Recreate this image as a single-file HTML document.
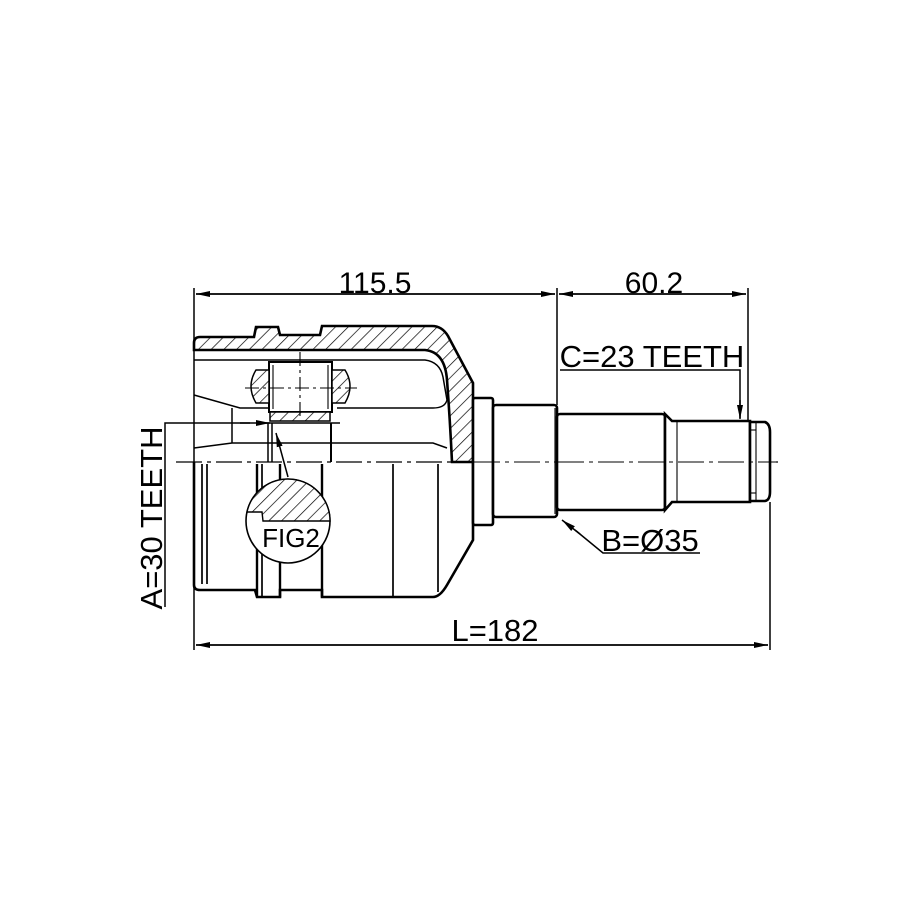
<!DOCTYPE html>
<html><head><style>
html,body{margin:0;padding:0;background:#fff}
svg{display:block}
text{font-family:"Liberation Sans",sans-serif;fill:#000}
</style></head><body>
<svg width="915" height="915" viewBox="0 0 915 915" xmlns="http://www.w3.org/2000/svg">
<defs>
<pattern id="h" patternUnits="userSpaceOnUse" width="9" height="9" patternTransform="rotate(45)">
<rect width="9" height="9" fill="#fff"/><line x1="0" y1="0" x2="0" y2="9" stroke="#000" stroke-width="1.4"/>
</pattern>
<marker id="a" markerWidth="14" markerHeight="8" refX="14" refY="4" orient="auto" markerUnits="userSpaceOnUse">
<path d="M0,1 L14,4 L0,7 Z" fill="#000"/></marker>
</defs>
<g fill="none" stroke="#000" stroke-width="1.5">
<line x1="194" y1="288" x2="194" y2="650"/>
<line x1="557" y1="288" x2="557" y2="405"/>
<line x1="748" y1="288" x2="748" y2="421"/>
<line x1="770" y1="502" x2="770" y2="650"/>
<line x1="196" y1="294" x2="555" y2="294" marker-end="url(#a)"/>
<line x1="555" y1="294" x2="196" y2="294" marker-end="url(#a)"/>
<line x1="559" y1="294" x2="746" y2="294" marker-end="url(#a)"/>
<line x1="746" y1="294" x2="559" y2="294" marker-end="url(#a)"/>
<line x1="196" y1="645" x2="768" y2="645" marker-end="url(#a)"/>
<line x1="768" y1="645" x2="196" y2="645" marker-end="url(#a)"/>
<polyline points="560,370 740,370 740,418" />
<line x1="740" y1="400" x2="740" y2="419" marker-end="url(#a)"/>
<polyline points="700,553 603,553 575,530"/>
<line x1="580" y1="534" x2="562" y2="520" marker-end="url(#a)"/>
<polyline points="165,607 165,423 250,423"/>
<line x1="240" y1="423" x2="270" y2="423" marker-end="url(#a)"/>
<line x1="288" y1="477" x2="276" y2="433" marker-end="url(#a)"/>
<line x1="176" y1="462" x2="778" y2="462" stroke-dasharray="26,5,4,5" stroke-width="1.3"/>
</g>
<path d="M194,343 Q194,337 200,337 L254,337 L256,327 L278,327 L280,335 L320,335 L322,326 L432,326 Q442,326 448,336 L473,383 L473,462 L452,462 Q450,420 447,380 Q445,352 425,350 L194,350 Z" fill="url(#h)" stroke="#000" stroke-width="2.6"/>
<g fill="none" stroke="#000" stroke-width="1.5">
<path d="M194,360 L425,360 Q440,362 443,377 L447,400 Q445,408 433,408 L337,408"/>
<polyline points="194,395 240,408 268,408"/>
<line x1="232" y1="408" x2="232" y2="443"/>
<path d="M194,448 L232,443 L433,443 L447,448"/>
<line x1="268" y1="423" x2="268" y2="462"/><line x1="272" y1="423" x2="272" y2="462"/>
<line x1="331" y1="423" x2="331" y2="462" stroke-width="2"/>
<line x1="258" y1="423" x2="340" y2="423"/>
</g>
<rect x="269" y="362" width="63" height="50" fill="#fff" stroke="#000" stroke-width="2"/>
<path d="M269,370 L256,370 Q246,386 256,403 L269,403 Z" fill="url(#h)" stroke="#000" stroke-width="1.5"/>
<path d="M332,370 L345,370 Q355,386 345,403 L332,403 Z" fill="url(#h)" stroke="#000" stroke-width="1.5"/>
<rect x="270" y="412" width="60" height="9" fill="url(#h)" stroke="#000" stroke-width="1.5"/>
<g fill="none" stroke="#000" stroke-width="1.1">
<line x1="245" y1="388" x2="357" y2="388" stroke-dasharray="14,4,3,4"/>
<line x1="300" y1="352" x2="300" y2="420" stroke-dasharray="14,4,3,4"/>
<line x1="273" y1="365" x2="273" y2="409"/><line x1="328" y1="365" x2="328" y2="409"/>
</g>
<path d="M194,462 L194,585 Q194,590 200,590 L255,590 L257,597 L280,597 L280,590 L322,590 L322,597 L433,597 Q440,597 447,585 L473,540 L473,462" fill="none" stroke="#000" stroke-width="2.6"/>
<g stroke="#000" stroke-width="1.7">
<line x1="202" y1="464" x2="202" y2="584"/>
<line x1="207" y1="464" x2="207" y2="584"/>
<line x1="257" y1="464" x2="257" y2="597" stroke-width="2.4"/>
<line x1="262" y1="464" x2="262" y2="597"/>
<line x1="280" y1="464" x2="280" y2="597" stroke-width="2.4"/>
<line x1="322" y1="464" x2="322" y2="597" stroke-width="2.4"/>
<line x1="393" y1="464" x2="393" y2="597"/>
<line x1="438" y1="464" x2="438" y2="592"/>
</g>
<circle cx="288" cy="521" r="42" fill="#fff" stroke="#000" stroke-width="1.6"/>
<path d="M247,512 L262,512 L263,521 L330,521 A42,42 0 0 0 247,512 Z" fill="url(#h)" stroke="#000" stroke-width="1.4"/>
<text x="291" y="547" font-size="26" text-anchor="middle">FIG2</text>
<g stroke="#000" stroke-width="2.6" fill="#fff">
<rect x="473" y="398" width="20" height="127" rx="2"/>
<rect x="493" y="405" width="64" height="112" rx="3"/>
<rect x="557" y="414" width="108" height="96" rx="3"/>
<path d="M665,414 L672,421 L750,421 L750,502 L672,502 L665,510 Z"/>
<path d="M750,422 L765,422 Q770,424 770,432 L770,492 Q770,500 765,501 L750,501 Z"/>
</g>
<g stroke="#000" stroke-width="1.1" fill="none">
<line x1="555" y1="408" x2="555" y2="514"/>
<line x1="677" y1="421" x2="677" y2="502"/>
<line x1="756" y1="422" x2="756" y2="501"/>
<line x1="750" y1="430" x2="756" y2="430"/><line x1="750" y1="493" x2="756" y2="493"/>
<line x1="558" y1="462" x2="778" y2="462" stroke-dasharray="26,5,4,5"/>
<line x1="474" y1="462" x2="556" y2="462" stroke-dasharray="26,5,4,5"/>
</g>
<text x="375" y="293" font-size="30" text-anchor="middle">115.5</text>
<text x="654" y="293" font-size="30" text-anchor="middle">60.2</text>
<text x="652" y="367" font-size="31" text-anchor="middle">C=23 TEETH</text>
<text x="650" y="551" font-size="31" text-anchor="middle">B=Ø35</text>
<text x="495" y="641" font-size="31" text-anchor="middle">L=182</text>
<text transform="translate(162,518) rotate(-90)" font-size="31" text-anchor="middle">A=30 TEETH</text>
</svg>
</body></html>
